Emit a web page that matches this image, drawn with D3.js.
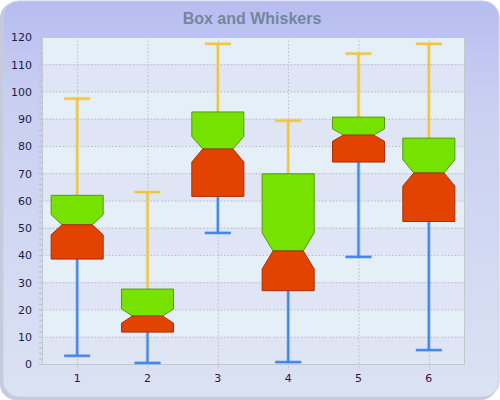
<!DOCTYPE html>
<html lang="en">
<head>
<meta charset="utf-8">
<title>Box and Whiskers</title>
<script src="https://d3js.org/d3.v7.min.js"></script>
<style>
  body{margin:0;background:#fff;}
  svg{display:block;font-family:"Liberation Sans",Arial,sans-serif;}
</style>
</head>
<body>
<div id="chart"></div>
<script>
// data
var categories = ["1","2","3","4","5","6"]
var whiskerLow  = [3.0, 0.4, 48.1, 0.7, 39.3, 5.1]
var q1          = [38.5, 11.7, 61.5, 26.9, 74.1, 52.3]
var median      = [51.1, 17.6, 78.9, 41.5, 84.0, 70.1]
var q3          = [61.9, 27.5, 92.5, 69.8, 90.6, 82.9]
var whiskerHigh = [97.4, 63.1, 117.5, 89.3, 113.9, 117.5]
var notchLow    = [47.4, 15.0, 74.1, 34.9, 81.7, 65.3]
var notchHigh   = [54.8, 20.2, 83.5, 48.1, 86.3, 75.0]
var yTicks      = [0,10,20,30,40,50,60,70,80,90,100,110,120]

var w = 500, h = 400
var m = {left:42, right:36, top:37, bottom:36}

var svg = d3.select("#chart").append("svg")
    .attr("width", w).attr("height", h)

var defs = svg.append("defs")
var bg = defs.append("linearGradient").attr("id","bg")
    .attr("x1",0).attr("y1",0).attr("x2",0).attr("y2",1)
bg.append("stop").attr("offset","0%").attr("stop-color","#b6bdf0")
bg.append("stop").attr("offset","25%").attr("stop-color","#c9cff1")
bg.append("stop").attr("offset","100%").attr("stop-color","#dbe2f3")

// outer panel with a soft shadow on the left/bottom
svg.append("rect").attr("x",0).attr("y",2).attr("width",w-3).attr("height",h-2)
    .attr("rx",16).attr("fill","#a0a6c0").attr("opacity",0.6)
svg.append("rect").attr("x",3).attr("y",1).attr("width",w-4).attr("height",h-4)
    .attr("rx",16).attr("fill","url(#bg)").attr("stroke","#c8cde8")

svg.append("text").attr("x",252).attr("y",24)
    .attr("text-anchor","middle")
    .attr("font-size",16).attr("font-weight","bold")
    .attr("fill","#75859e")
    .text("Box and Whiskers")

var x = d3.scaleBand().domain(categories).range([m.left, w-m.right])
var y = d3.scaleLinear().domain([0,120]).range([h-m.bottom, m.top])

// alternating horizontal bands
var bands = d3.range(yTicks.length-1)
svg.append("g").selectAll("rect").data(bands).enter().append("rect")
    .attr("x", m.left).attr("width", w-m.right-m.left)
    .attr("y", function(i){ return y(yTicks[i+1]) })
    .attr("height", function(i){ return y(yTicks[i]) - y(yTicks[i+1]) })
    .attr("fill", function(i){ return i % 2 ? "#e4eff8" : "#e0e5f5" })

// grid
var grid = svg.append("g").attr("stroke","#b9bcc8").attr("stroke-dasharray","1.5,2")
grid.selectAll("line.h").data(yTicks.slice(1)).enter().append("line")
    .attr("x1", m.left).attr("x2", w-m.right)
    .attr("y1", function(d){ return y(d)+0.5 }).attr("y2", function(d){ return y(d)+0.5 })
grid.selectAll("line.v").data(categories).enter().append("line")
    .attr("x1", function(d){ return x(d)+x.bandwidth()/2+0.5 })
    .attr("x2", function(d){ return x(d)+x.bandwidth()/2+0.5 })
    .attr("y1", m.top).attr("y2", h-m.bottom+6)

// plot border
svg.append("rect").attr("x", m.left+0.5).attr("y", m.top+0.5)
    .attr("width", w-m.right-m.left).attr("height", h-m.bottom-m.top)
    .attr("fill","none").attr("stroke","#c4c8cc")

// axes
var yAxis = svg.append("g").attr("transform","translate("+m.left+",0)")
    .call(d3.axisLeft(y).tickValues(yTicks).tickSize(0).tickPadding(10))
yAxis.select(".domain").remove()
yAxis.selectAll("text").attr("font-size",11).attr("fill","#1c1c48")
    .attr("font-family","'DejaVu Sans',sans-serif").attr("dy","0.35em")
var minor = svg.append("g").attr("transform","translate("+m.left+",0)")
    .call(d3.axisLeft(y).ticks(60).tickSize(3).tickFormat(""))
minor.select(".domain").remove()
minor.selectAll("line").attr("stroke","#b8bcc4")

var xAxis = svg.append("g").attr("transform","translate(0,"+(h-m.bottom)+")")
    .call(d3.axisBottom(x).tickSize(0).tickPadding(10))
xAxis.select(".domain").remove()
xAxis.selectAll("text").attr("font-size",11).attr("fill","#3a1040")
    .attr("font-family","'DejaVu Sans',sans-serif")

// boxes
var boxW = x.bandwidth()*0.74
var notchIn = boxW*0.21
var capW = 26
var data = categories.map(function(c,i){
  return {c:c, lo:whiskerLow[i], q1:q1[i], med:median[i], q3:q3[i], hi:whiskerHigh[i], nl:notchLow[i], nh:notchHigh[i]}
})

var g = svg.append("g").selectAll("g").data(data).enter().append("g")
    .attr("transform", function(d){ return "translate("+(x(d.c)+x.bandwidth()/2)+",0)" })

function whisker(from, to, color){
  // soft halo under the line, then the line
  [[3.8, 0.3], [2, 1]].forEach(function(s){
    g.append("line").attr("x1",0).attr("x2",0)
        .attr("y1", function(d){ return y(d[from]) }).attr("y2", function(d){ return y(d[to]) })
        .attr("stroke",color).attr("stroke-width",s[0]).attr("opacity",s[1])
    g.append("line").attr("x1",-capW/2).attr("x2",capW/2)
        .attr("y1", function(d){ return y(d[from]) }).attr("y2", function(d){ return y(d[from]) })
        .attr("stroke",color).attr("stroke-width",s[0]).attr("opacity",s[1])
  })
}
whisker("hi","q3","#f2c535")
whisker("lo","q1","#3f86ec")

var hw = boxW/2
// upper half (q3 -> median), green
g.append("path")
    .attr("d", function(d){
      return "M"+(-hw)+","+y(d.q3)+"L"+hw+","+y(d.q3)+"L"+hw+","+y(d.nh)
        +"L"+(hw-notchIn)+","+y(d.med)+"L"+(-hw+notchIn)+","+y(d.med)
        +"L"+(-hw)+","+y(d.nh)+"Z"
    })
    .attr("fill","#76e200").attr("stroke","#5a9a0a").attr("stroke-width",1)
// lower half (median -> q1), red
g.append("path")
    .attr("d", function(d){
      return "M"+(-hw+notchIn)+","+y(d.med)+"L"+(hw-notchIn)+","+y(d.med)+"L"+hw+","+y(d.nl)
        +"L"+hw+","+y(d.q1)+"L"+(-hw)+","+y(d.q1)
        +"L"+(-hw)+","+y(d.nl)+"Z"
    })
    .attr("fill","#e34300").attr("stroke","#a83000").attr("stroke-width",1)
</script>
</body>
</html>
